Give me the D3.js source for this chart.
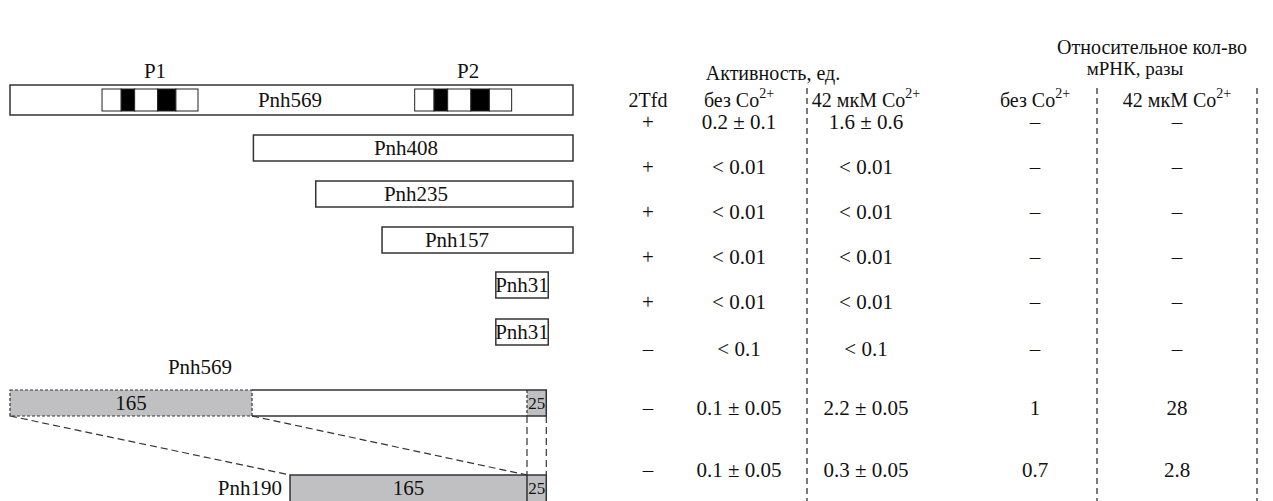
<!DOCTYPE html>
<html>
<head>
<meta charset="utf-8">
<script src="https://cdn.jsdelivr.net/npm/d3@7"></script>
<style>
  body { margin: 0; background: #fff; }
  svg text { font-family: "Liberation Serif", "DejaVu Serif", serif; fill: #111; }
</style>
</head>
<body>
<svg width="1273" height="501"></svg>
<script>
let svg = d3.select("svg"),
    width = +svg.attr("width"),
    height = +svg.attr("height");

// constructs, in schematic bp units (diagram is not to scale)
let constructs = ["Pnh569", "Pnh408", "Pnh235", "Pnh157", "Pnh31", "Pnh31"];
let starts = [0, 246, 309, 376, 491, 491];
let ends = [569, 569, 569, 569, 544, 544];
let promoters = ["P1", "P2"];
let promoterStarts = [93, 409];
let promoterEnds = [190, 507];

// deletion pair at the bottom
let fusions = ["Pnh569", "Pnh190"];
let fusionStarts = [0, 283];
let fusionEnds = [542, 542];
let parts = ["165", "25"];

// table
let colHeads = ["2Tfd", "без Co", "42 мкМ Co", "без Co", "42 мкМ Co"];
let tfd = ["+", "+", "+", "+", "+", "–", "–", "–"];
let actNoCo = ["0.2 ± 0.1", "< 0.01", "< 0.01", "< 0.01", "< 0.01", "< 0.1", "0.1 ± 0.05", "0.1 ± 0.05"];
let actCo = ["1.6 ± 0.6", "< 0.01", "< 0.01", "< 0.01", "< 0.01", "< 0.1", "2.2 ± 0.05", "0.3 ± 0.05"];
let rnaNoCo = ["–", "–", "–", "–", "–", "–", "1", "0.7"];
let rnaCo = ["–", "–", "–", "–", "–", "–", "28", "2.8"];

let x = d3.scaleLinear().domain([0, 569]).range([10, 573]);
let rowY = [100, 148, 194, 240, 285, 332, 403, 488];
let tableY = [122, 167, 212, 257, 302, 349, 408, 470];
let colX = [648, 739, 866, 1035, 1177];
let gray = "#c0c0c3";
let stroke = "#333";
let fs = 21;

let g = svg.append("g");

// promoter labels
g.selectAll("text.prom")
  .data(promoters).enter().append("text")
    .attr("x", (d, i) => x((promoterStarts[i] + promoterEnds[i]) / 2) + 5)
    .attr("y", 78)
    .attr("text-anchor", "middle")
    .attr("font-size", fs)
    .text(d => d);

// construct bars
constructs.forEach((name, i) => {
  let h = i === 0 ? 30 : 26;
  let cy = rowY[i];
  g.append("rect")
    .attr("x", x(starts[i])).attr("y", cy - h / 2)
    .attr("width", x(ends[i]) - x(starts[i])).attr("height", h)
    .attr("fill", "#fff").attr("stroke", stroke).attr("stroke-width", 1.5);
});

// promoter boxes inside Pnh569
let segFrac = [0, 0.2, 0.34, 0.58, 0.77, 1];
promoters.forEach((p, i) => {
  let x0 = x(promoterStarts[i]), x1 = x(promoterEnds[i]);
  let sx = d3.scaleLinear().domain([0, 1]).range([x0, x1]);
  for (let k = 0; k < 5; k++) {
    g.append("rect")
      .attr("x", sx(segFrac[k])).attr("y", 89)
      .attr("width", sx(segFrac[k + 1]) - sx(segFrac[k])).attr("height", 22)
      .attr("fill", k % 2 ? "#000" : "#fff")
      .attr("stroke", "#222").attr("stroke-width", 1);
  }
});

// construct labels
let labelX = [290, 406, 416, 457, null, null];
g.selectAll("text.cons")
  .data(constructs).enter().append("text")
    .attr("x", (d, i) => labelX[i] !== null ? labelX[i] : (x(starts[i]) + x(ends[i])) / 2)
    .attr("y", (d, i) => rowY[i] + 7)
    .attr("text-anchor", "middle")
    .attr("font-size", fs)
    .text(d => d);

// fusion constructs
let split = x(522.5);
fusions.forEach((name, i) => {
  let cy = rowY[6 + i], h = 26;
  let xs = x(fusionStarts[i]), xe = x(fusionEnds[i]);
  let leftEnd = i === 0 ? x(244.6) : split;
  g.append("rect").attr("x", xs).attr("y", cy - h / 2)
    .attr("width", leftEnd - xs).attr("height", h)
    .attr("fill", gray).attr("stroke", "none");
  g.append("rect").attr("x", split).attr("y", cy - h / 2)
    .attr("width", xe - split).attr("height", h)
    .attr("fill", gray).attr("stroke", "none");
  if (i === 0) {
    g.append("rect").attr("x", xs).attr("y", cy - h / 2)
      .attr("width", leftEnd - xs).attr("height", h)
      .attr("fill", "none").attr("stroke", stroke).attr("stroke-width", 1.2)
      .attr("stroke-dasharray", "3,2");
    g.append("line").attr("x1", leftEnd).attr("x2", split)
      .attr("y1", cy - h / 2).attr("y2", cy - h / 2)
      .attr("stroke", stroke).attr("stroke-width", 1.5);
    g.append("line").attr("x1", leftEnd).attr("x2", split)
      .attr("y1", cy + h / 2).attr("y2", cy + h / 2)
      .attr("stroke", stroke).attr("stroke-width", 1.5);
    g.append("line").attr("x1", split).attr("x2", split)
      .attr("y1", cy - h / 2).attr("y2", cy + h / 2)
      .attr("stroke", stroke).attr("stroke-width", 1.2).attr("stroke-dasharray", "3,2");
    g.append("path")
      .attr("d", `M${split},${cy - h / 2}H${xe}V${cy + h / 2}H${split}`)
      .attr("fill", "none").attr("stroke", stroke).attr("stroke-width", 1.5);
  } else {
    g.append("rect").attr("x", xs).attr("y", cy - h / 2)
      .attr("width", xe - xs).attr("height", h + 10)
      .attr("fill", "none").attr("stroke", stroke).attr("stroke-width", 1.5);
    g.append("line").attr("x1", split).attr("x2", split)
      .attr("y1", cy - h / 2).attr("y2", cy + h)
      .attr("stroke", stroke).attr("stroke-width", 1.5);
  }
  g.append("text").attr("x", (xs + leftEnd) / 2).attr("y", cy + 7)
    .attr("text-anchor", "middle").attr("font-size", fs).text(parts[0]);
  g.append("text").attr("x", (split + xe) / 2).attr("y", cy + 6)
    .attr("text-anchor", "middle").attr("font-size", 17).text(parts[1]);
});

g.append("text").attr("x", 200).attr("y", 374)
  .attr("text-anchor", "middle").attr("font-size", fs).text(fusions[0]);
g.append("text").attr("x", 282).attr("y", rowY[7] + 7)
  .attr("text-anchor", "end").attr("font-size", fs).text(fusions[1]);

// dashed connectors
let topB = rowY[6] + 13, botT = rowY[7] - 13;
let connectors = [
  [x(fusionStarts[0]), topB, x(fusionStarts[1]), botT],
  [x(244.6), topB, split, botT],
  [split, topB, split, botT],
  [x(542), topB, x(542), botT]
];
g.selectAll("line.conn")
  .data(connectors).enter().append("line")
    .attr("x1", d => d[0]).attr("y1", d => d[1])
    .attr("x2", d => d[2]).attr("y2", d => d[3])
    .attr("stroke", stroke).attr("stroke-width", 1.2)
    .attr("stroke-dasharray", "7,4");

// table headers
let t = svg.append("g").attr("font-size", fs);
t.append("text").attr("x", 773).attr("y", 80).attr("text-anchor", "middle")
  .attr("font-size", 20).text("Активность, ед.");
t.append("text").attr("x", 1152).attr("y", 54).attr("text-anchor", "middle")
  .attr("font-size", 20).text("Относительное кол-во");
t.append("text").attr("x", 1135).attr("y", 75).attr("text-anchor", "middle")
  .attr("font-size", 19).text("мРНК, разы");

colHeads.forEach((h, i) => {
  let txt = t.append("text").attr("x", colX[i]).attr("y", 107)
    .attr("text-anchor", "middle").attr("font-size", 20);
  txt.append("tspan").text(h);
  if (i > 0) {
    txt.append("tspan").attr("dy", -9).attr("font-size", 14).text("2+");
  }
});

// dashed column separators
let seps = [807, 1097, 1257];
t.selectAll("line.sep")
  .data(seps).enter().append("line")
    .attr("x1", d => d).attr("x2", d => d)
    .attr("y1", 88).attr("y2", height)
    .attr("stroke", "#333").attr("stroke-width", 1.3)
    .attr("stroke-dasharray", "6,4");

let cols = [tfd, actNoCo, actCo, rnaNoCo, rnaCo];
cols.forEach((col, ci) => {
  t.selectAll("text.c" + ci)
    .data(col).enter().append("text")
      .attr("x", colX[ci])
      .attr("y", (d, i) => tableY[i] + 7)
      .attr("text-anchor", "middle")
      .text(d => d);
});
</script>
</body>
</html>
